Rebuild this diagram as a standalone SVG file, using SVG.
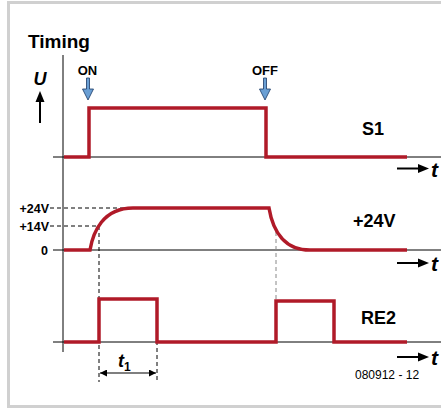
<svg xmlns="http://www.w3.org/2000/svg" width="441" height="408" viewBox="0 0 441 408">
<defs>
<style>
.sig{fill:none;stroke:#b01a28;stroke-width:3.5;stroke-linejoin:miter}
.ax{fill:none;stroke:#000;stroke-width:1}
.dash{fill:none;stroke:#000;stroke-width:1;stroke-dasharray:4,3}
.gdash{fill:none;stroke:#888;stroke-width:1;stroke-dasharray:4,3}
.lbl{font-family:"Liberation Sans",Arial,sans-serif;font-weight:bold;fill:#000}
.it{font-style:italic}
.blue{fill:#6a9fd4;stroke:#1a3a66;stroke-width:0.8}
.tarr{stroke:#000;stroke-width:2}
.head{fill:#000}
</style>
<marker id="ah" viewBox="0 0 10 10" refX="10" refY="5" markerWidth="7" markerHeight="7" markerUnits="userSpaceOnUse" orient="auto-start-reverse">
<path d="M0,0 L10,5 L0,10 z" fill="#000"/>
</marker>
</defs>
<rect x="0" y="0" width="441" height="408" fill="#fff"/>
<rect x="8.5" y="2.5" width="440" height="404" fill="none" stroke="#d0d0d0" stroke-width="3"/>

<g id="title"><text class="lbl" x="28" y="48" font-size="19">Timing</text></g>

<g id="axes">
<line class="ax" x1="63" y1="55" x2="63" y2="352"/>
<line class="ax" x1="53" y1="157" x2="441" y2="157"/>
<line class="ax" x1="53" y1="250" x2="441" y2="250"/>
<line class="ax" x1="53" y1="342" x2="441" y2="342"/>
</g>

<g id="u-label">
<text class="lbl it" x="40" y="85" font-size="18" text-anchor="middle">U</text>
<line class="tarr" x1="40" y1="123" x2="40" y2="100"/>
<path class="head" d="M40,91 L44.5,102 L35.5,102 Z"/>
</g>

<g id="on-marker">
<text class="lbl" x="87.5" y="75" font-size="13" text-anchor="middle">ON</text>
<path class="blue" d="M86.5,78 H89.5 V89 H93.5 L88,100 L82.5,89 H86.5 Z"/>
</g>
<g id="off-marker">
<text class="lbl" x="265" y="75" font-size="13" text-anchor="middle">OFF</text>
<path class="blue" d="M263.5,78 H266.5 V89 H270.5 L265,100 L259.5,89 H263.5 Z"/>
</g>

<g id="connectors">
<line class="dash" x1="50" y1="208" x2="133" y2="208"/>
<line class="dash" x1="50" y1="226" x2="99" y2="226"/>
<line class="dash" x1="99" y1="226" x2="99" y2="382"/>
<line class="dash" x1="157" y1="299" x2="157" y2="382"/>
<line class="gdash" x1="276" y1="232" x2="276" y2="301"/>
<line x1="100" y1="373" x2="156" y2="373" stroke="#000" stroke-width="1.2" marker-start="url(#ah)" marker-end="url(#ah)"/>
</g>

<g id="s1">
<path class="sig" d="M64,157 H89 V108 H266 V157 H407"/>
<text class="lbl" x="362" y="135" font-size="18">S1</text>
</g>

<g id="v24">
<path class="sig" d="M64,250 H90 C93,232 103,208 133,208 H269 C273,232 285,250 310,250 H407"/>
<text class="lbl" x="353" y="227" font-size="18">+24V</text>
<text class="lbl" x="49" y="212.5" font-size="12.5" text-anchor="end">+24V</text>
<text class="lbl" x="49" y="230.5" font-size="12.5" text-anchor="end">+14V</text>
<text class="lbl" x="48" y="254.5" font-size="12.5" text-anchor="end">0</text>
</g>

<g id="re2">
<path class="sig" d="M64,342 H99 V299 H157 V342 H276 V301 H334 V342 H407"/>
<text class="lbl" x="361" y="324" font-size="18">RE2</text>
</g>

<g id="t-arrows">
<line class="tarr" x1="397" y1="168.5" x2="420" y2="168.5"/>
<path class="head" d="M429,168.5 L418,164 L418,173 Z"/>
<text class="lbl it" x="431" y="177" font-size="21">t</text>
<line class="tarr" x1="397" y1="263" x2="420" y2="263"/>
<path class="head" d="M429,263 L418,258.5 L418,267.5 Z"/>
<text class="lbl it" x="431" y="271" font-size="21">t</text>
<line class="tarr" x1="397" y1="357" x2="420" y2="357"/>
<path class="head" d="M429,357 L418,352.5 L418,361.5 Z"/>
<text class="lbl it" x="431" y="365" font-size="21">t</text>
</g>

<g id="t1-label">
<text class="lbl it" x="118" y="367" font-size="18">t<tspan font-size="12" dy="4" font-style="normal">1</tspan></text>
</g>

<g id="figure-number">
<text x="355" y="379" font-family="Liberation Sans, Arial, sans-serif" font-size="12" fill="#000">080912 - 12</text>
</g>
</svg>
